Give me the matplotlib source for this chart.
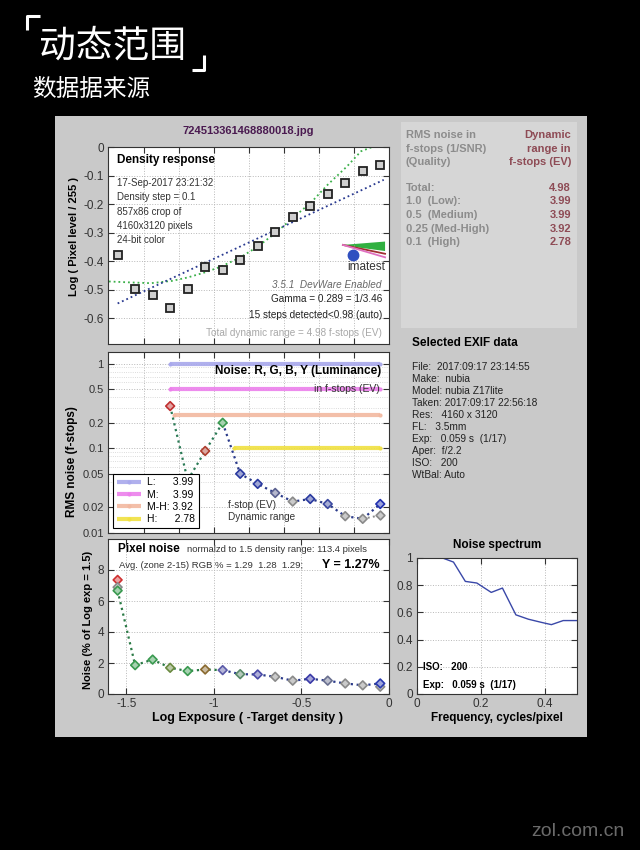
import matplotlib
matplotlib.use('Agg')
import matplotlib.pyplot as plt
from matplotlib.patches import Rectangle, Polygon
from matplotlib.lines import Line2D
from matplotlib.colors import to_rgba
import numpy as np

plt.rcParams['font.family'] = ['Liberation Sans', 'DejaVu Sans']

# ---------------- data ----------------
steps_x = [-1.55, -1.45, -1.35, -1.25, -1.15, -1.05, -0.95, -0.85,
           -0.75, -0.65, -0.55, -0.45, -0.35, -0.25, -0.15, -0.05]
density_y = [-0.378, -0.498, -0.518, -0.563, -0.496, -0.420, -0.432, -0.396,
             -0.346, -0.296, -0.246, -0.207, -0.165, -0.127, -0.085, -0.062]
fit_x = [-1.55, -0.03]
fit_y = [-0.548, -0.115]
smooth_x = [-1.60, -1.49, -1.36, -1.24, -1.15, -1.05, -0.96, -0.85,
            -0.75, -0.65, -0.55, -0.44, -0.35, -0.24, -0.16, -0.07]
smooth_y = [-0.471, -0.474, -0.477, -0.469, -0.457, -0.439, -0.419, -0.387,
            -0.349, -0.302, -0.249, -0.191, -0.132, -0.068, -0.015, 0.006]

noise_x = [-1.25, -1.15, -1.05, -0.95, -0.85, -0.75, -0.65,
           -0.55, -0.45, -0.35, -0.25, -0.15, -0.05]
noise_f = [0.315, 0.042, 0.093, 0.20, 0.050, 0.038, 0.0297,
           0.0235, 0.0252, 0.022, 0.0158, 0.0147, 0.022]
noise_lum_x = [-0.15, -0.05]
noise_lum_f = [0.0147, 0.0162]
noise_colors = ['#c03030', '#2e8b57', '#b04030', '#3a9a50', '#2a3aa0', '#2a3aa0', '#5a6090',
                '#8a8a8a', '#2a3aa0', '#3a48a0', '#8a8a8a', '#8a8a8a', '#2030b0']

level_names = ['L:', 'M:', 'M-H:', 'H:']
level_vals = [1.0, 0.5, 0.25, 0.1]
level_dr = [3.99, 3.99, 3.92, 2.78]
level_start = [-1.25, -1.25, -1.23, -0.887]
level_end = [-0.05, -0.05, -0.05, -0.05]
level_colors = ['#a8a8ec', '#ec80ec', '#f2b8a0', '#f0e040']

pix_x = steps_x
pix_y = [6.67, 1.86, 2.22, 1.69, 1.48, 1.58, 1.54, 1.28,
         1.26, 1.11, 0.86, 0.98, 0.86, 0.68, 0.56, 0.68]
pix_colors = ['#3a9a50', '#3a9a50', '#3a9a50', '#6a8a40', '#3a9a50', '#8a6a30', '#5a5aa8', '#5a8a6a',
              '#4a4aa8', '#8a8a8a', '#8a8a8a', '#3a3aa8', '#6a7090', '#8a8a8a', '#8a8a8a', '#2a3ab0']
pix_extra_x = [-1.55, -1.55, -0.05]
pix_extra_y = [7.36, 6.89, 0.47]
pix_extra_colors = ['#d03030', '#8a8a8a', '#8a8a8a']

spec_f = [0.08, 0.114, 0.151, 0.187, 0.232, 0.267, 0.309, 0.348, 0.39, 0.42, 0.457, 0.5]
spec_v = [1.0, 0.97, 0.828, 0.816, 0.747, 0.779, 0.582, 0.55, 0.526, 0.51, 0.54, 0.54]

dr_rows = ['Total:', '1.0  (Low):', '0.5  (Medium)', '0.25 (Med-High)', '0.1  (High)']
dr_vals = ['4.98', '3.99', '3.99', '3.92', '2.78']
exif_lines = ['File:  2017:09:17 23:14:55', 'Make:  nubia', 'Model: nubia Z17lite',
              'Taken: 2017:09:17 22:56:18', 'Res:   4160 x 3120', 'FL:   3.5mm',
              'Exp:   0.059 s  (1/17)', 'Aper:  f/2.2', 'ISO:   200', 'WtBal: Auto']

# ---------------- figure ----------------
W, H = 640, 850
fig = plt.figure(figsize=(6.4, 8.5), dpi=100)
fig.patch.set_facecolor('black')


def box(l, t, r, b):
    return [l / W, 1 - b / H, (r - l) / W, (b - t) / H]


def ptext(x, y, s, **kw):
    kw.setdefault('va', 'center')
    fig.text(x / W, 1 - y / H, s, **kw)


fig.add_artist(Rectangle((55 / W, 1 - 737 / H), 532 / W, 621 / H, transform=fig.transFigure,
                         facecolor='#c9c9c9', edgecolor='none', zorder=-10))
fig.add_artist(Rectangle((401 / W, 1 - 328 / H), 176 / W, 206 / H, transform=fig.transFigure,
                         facecolor='#d6d6d6', edgecolor='none', zorder=-9))

# title decorations
for xs, ys in [([27, 27, 40], [30, 16, 16]), ([192, 204, 204], [70, 70, 55])]:
    fig.add_artist(Line2D([x / W for x in xs], [1 - y / H for y in ys], transform=fig.transFigure,
                          color='white', lw=2.2, solid_capstyle='butt'))
ptext(39, 46, '动态范围', color='white', fontsize=26.5, family=['Noto Sans CJK SC', 'DejaVu Sans'])
ptext(32, 89, '数据据来源', color='white', fontsize=17, family=['Noto Sans CJK SC', 'DejaVu Sans'])
ptext(625, 832, 'zol.com.cn', color='#6a6a6a', fontsize=14, ha='right')


def style(ax, ls=8.5):
    ax.set_facecolor('white')
    ax.tick_params(direction='in', top=True, right=True, length=4, width=0.8,
                   colors='#333333', labelsize=ls, pad=3)
    for s in ax.spines.values():
        s.set_color('#333333')
        s.set_linewidth(0.8)
    ax.grid(True, ls=':', color='#b8b8b8', lw=0.7)


def tint(c, a=0.55):
    r = np.array(to_rgba(c)[:3])
    return tuple(r * (1 - a) + a)


# ---------------- density response ----------------
ax1 = fig.add_axes(box(108, 147, 389, 344))
style(ax1)
ax1.plot(smooth_x, smooth_y, ls=':', color='#3cb04a', lw=1.3)
ax1.plot(fit_x, fit_y, ls=':', color='#2a3a90', lw=1.3)
ax1.plot(steps_x, density_y, ls='none', marker='s', ms=5.2, mfc='#cfcfcf', mec='#222222', mew=1.3)
ax1.set_xlim(-1.605, 0)
ax1.set_ylim(-0.69, 0)
ax1.set_xticks([-1.4, -1.2, -1.0, -0.8, -0.6, -0.4, -0.2])
ax1.set_xticklabels([])
ax1.set_yticks([0, -0.1, -0.2, -0.3, -0.4, -0.5, -0.6])
ax1.set_yticklabels(['0', '-0.1', '-0.2', '-0.3', '-0.4', '-0.5', '-0.6'])

# imatest logo (decoration)
ax1.add_patch(Polygon([(0.836, 0.503), (0.986, 0.52), (0.986, 0.472), (0.90, 0.488)], closed=True,
                      transform=ax1.transAxes, facecolor='#30b040', edgecolor='none'))
ax1.plot([0.836, 0.986], [0.503, 0.458], transform=ax1.transAxes, color='#a03030', lw=1.3)
ax1.plot([0.836, 0.986], [0.503, 0.440], transform=ax1.transAxes, color='#e070c0', lw=1.3)
ax1.plot([0.872], [0.452], transform=ax1.transAxes, marker='o', ms=7.5, color='#3050c0')
ax1.text(0.92, 0.393, 'imatest', transform=ax1.transAxes, ha='center', va='center',
         fontsize=8.5, color='#333333')

ptext(117, 160, 'Density response', fontsize=8.5, weight='bold', color='black')
for i, s in enumerate(['17-Sep-2017 23:21:32', 'Density step = 0.1', '857x86 crop of',
                       '4160x3120 pixels', '24-bit color']):
    ptext(117, 183 + 14.3 * i, s, fontsize=7, color='#333333')
ptext(382, 285, '3.5.1  DevWare Enabled', fontsize=7.2, style='italic', color='#666666', ha='right')
ptext(382, 299, 'Gamma = 0.289 = 1/3.46', fontsize=7.2, color='#222222', ha='right')
ptext(382, 315, '15 steps detected<0.98 (auto)', fontsize=7.2, color='#222222', ha='right')
ptext(382, 333, 'Total dynamic range = 4.98 f-stops (EV)', fontsize=7.2, color='#a8a8a8', ha='right')
ptext(248, 131, '724513361468880018.jpg', fontsize=8, weight='bold', color='#4a1a50', ha='center')
ptext(74, 236, 'Log ( Pixel level / 255 )', fontsize=8, weight='bold', rotation=90, ha='center')

# ---------------- noise (f-stops) ----------------
ax2 = fig.add_axes(box(108, 352, 389, 533))
style(ax2, ls=8)
ax2.set_yscale('log')
ax2.grid(True, which='minor', axis='y', ls=':', color='#d0d0d0', lw=0.6)
handles = []
for name, v, dr, x0, x1, c in zip(level_names, level_vals, level_dr, level_start, level_end, level_colors):
    h, = ax2.plot([x0, x1], [v, v], color=c, lw=3, alpha=0.9, marker='.', ms=4, solid_capstyle='butt')
    handles.append(h)
ax2.plot(noise_x[:4], noise_f[:4], ls=':', color='#2a7a55', lw=1.6)
ax2.plot(noise_x[3:], noise_f[3:], ls=':', color='#2a3a8a', lw=1.6)
ax2.plot(noise_lum_x, noise_lum_f, ls=':', color='#8a8a8a', lw=1.4)
ax2.scatter(noise_x, noise_f, marker='D', s=20, facecolors=[tint(c) for c in noise_colors],
            edgecolors=noise_colors, linewidths=1.2, zorder=5)
ax2.scatter(noise_lum_x[1:], noise_lum_f[1:], marker='D', s=20, facecolors=[tint('#8a8a8a')],
            edgecolors=['#8a8a8a'], linewidths=1.2, zorder=5)
ax2.set_xlim(-1.605, 0)
ax2.set_ylim(0.01, 1.37)
ax2.set_xticks([-1.4, -1.2, -1.0, -0.8, -0.6, -0.4, -0.2])
ax2.set_xticklabels([])
ax2.set_yticks([1, 0.5, 0.2, 0.1, 0.05, 0.02, 0.01])
ax2.set_yticklabels(['1', '0.5', '0.2', '0.1', '0.05', '0.02', '0.01'])
ax2.tick_params(which='minor', left=False, right=False)
labels = ['L:      3.99', 'M:     3.99', 'M-H: 3.92', 'H:      2.78']
leg = ax2.legend(handles, labels, loc='lower left', bbox_to_anchor=(0.018, 0.028), borderaxespad=0,
                 fontsize=7.5, handlelength=2.3, handletextpad=0.6, labelspacing=0.22,
                 borderpad=0.35, fancybox=False, framealpha=1, edgecolor='black')
leg.get_frame().set_linewidth(0.8)
ptext(381, 371, 'Noise: R, G, B, Y (Luminance)', fontsize=8.5, weight='bold', ha='right')
ptext(380, 389, 'in f-stops (EV)', fontsize=7.5, ha='right', color='#333333')
ptext(228, 505, 'f-stop (EV)', fontsize=7.2, color='#333333')
ptext(228, 517, 'Dynamic range', fontsize=7.2, color='#333333')
ptext(72, 462, 'RMS noise (f-stops)', fontsize=8.5, weight='bold', rotation=90, ha='center')

# ---------------- pixel noise ----------------
ax3 = fig.add_axes(box(108, 539, 389, 694))
style(ax3)
ax3.plot(pix_x[:7], pix_y[:7], ls=':', color='#2a7a45', lw=1.6)
ax3.plot(pix_x[6:], pix_y[6:], ls=':', color='#2a3a8a', lw=1.6)
ax3.scatter(pix_x, pix_y, marker='D', s=20, facecolors=[tint(c) for c in pix_colors],
            edgecolors=pix_colors, linewidths=1.2, zorder=5)
ax3.scatter(pix_extra_x, pix_extra_y, marker='D', s=20, facecolors=[tint(c) for c in pix_extra_colors],
            edgecolors=pix_extra_colors, linewidths=1.2, zorder=4)
ax3.set_xlim(-1.605, 0)
ax3.set_ylim(0, 10)
ax3.set_xticks([-1.5, -1.0, -0.5, 0])
ax3.set_xticklabels(['-1.5', '-1', '-0.5', '0'])
ax3.set_yticks([0, 2, 4, 6, 8])
ax3.set_yticklabels(['0', '2', '4', '6', '8'])
ptext(118, 549, 'Pixel noise', fontsize=8.5, weight='bold')
ptext(187, 549, 'normalzd to 1.5 density range: 113.4 pixels', fontsize=6.8, color='#333333')
ptext(119, 565, 'Avg. (zone 2-15) RGB % = 1.29  1.28  1.29;', fontsize=6.8, color='#333333')
ptext(380, 565, 'Y = 1.27%', fontsize=9, weight='bold', ha='right')
ptext(88, 620, 'Noise (% of Log exp = 1.5)', fontsize=8, weight='bold', rotation=90, ha='center')
ptext(248, 718, 'Log Exposure ( -Target density )', fontsize=9, weight='bold', ha='center')

# ---------------- noise spectrum ----------------
ax4 = fig.add_axes(box(417, 558, 577, 694))
style(ax4)
ax4.plot(spec_f, spec_v, color='#3a48a8', lw=1.0)
ax4.set_xlim(0, 0.5)
ax4.set_ylim(0, 1)
ax4.set_xticks([0, 0.2, 0.4])
ax4.set_xticklabels(['0', '0.2', '0.4'])
ax4.set_yticks([0, 0.2, 0.4, 0.6, 0.8, 1.0])
ax4.set_yticklabels(['0', '0.2', '0.4', '0.6', '0.8', '1'])
ptext(497, 545, 'Noise spectrum', fontsize=8.5, weight='bold', ha='center')
ptext(423, 667, 'ISO:   200', fontsize=7, weight='bold')
ptext(423, 685, 'Exp:   0.059 s  (1/17)', fontsize=7, weight='bold')
ptext(497, 718, 'Frequency, cycles/pixel', fontsize=8.5, weight='bold', ha='center')

# ---------------- text panels ----------------
for i, s in enumerate(['RMS noise in', 'f-stops (1/SNR)', '(Quality)']):
    ptext(406, 135 + 13.5 * i, s, fontsize=8, weight='bold', color='#8c8c8c')
for i, s in enumerate(['Dynamic', 'range in', 'f-stops (EV)']):
    ptext(571, 135 + 13.5 * i, s, fontsize=8, weight='bold', color='#8e4b55', ha='right')
for i, (r, v) in enumerate(zip(dr_rows, dr_vals)):
    ptext(406, 188 + 13.5 * i, r, fontsize=8, weight='bold', color='#8c8c8c')
    ptext(571, 188 + 13.5 * i, v, fontsize=8, weight='bold', color='#8e4b55', ha='right')

ptext(412, 343, 'Selected EXIF data', fontsize=8.5, weight='bold')
for i, s in enumerate(exif_lines):
    ptext(412, 367 + 12 * i, s, fontsize=7.3, color='#222222')

fig.savefig('out.png', dpi=100, facecolor='black')
